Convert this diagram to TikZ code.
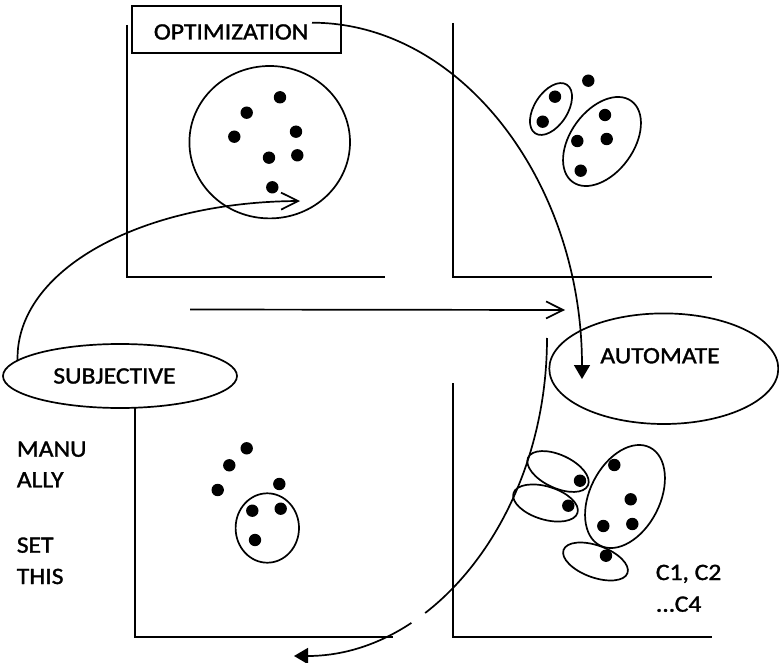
\documentclass[tikz,border=0pt]{standalone}
\usepackage{fontspec}
\setmainfont{Carlito}[RawFeature={embolden=1.3}]
\usetikzlibrary{arrows.meta,shapes.geometric}
\newcommand\lbl[1]{\scalebox{1.09}[1]{#1}}
\begin{document}
\begin{tikzpicture}[x=1pt,y=-1pt,line width=1.7pt,
  every node/.style={inner sep=0pt,font=\fontsize{23.5pt}{28pt}\selectfont},
  txt/.style={anchor=base west},
  bubble/.style={draw,ellipse},
  barb/.style={-{Straight Barb[length=17pt,width=17pt]}},
  tri/.style={-{Triangle[length=14pt,width=16pt]}}]
\useasboundingbox (0,0) rectangle (779,663);

% axes of the four panels
\draw (126.7,25) -- (126.7,277) -- (385,277);
\draw (453.3,23) -- (453.3,277) -- (711.7,277);
\draw (135,408) -- (135,636.7) -- (393,636.7);
\draw (452.7,383) -- (452.7,636.7) -- (712,636.7);

% top-left: one big cluster
\draw (269.7,142.2) ellipse[x radius=80.3,y radius=76.2];
\foreach \x/\y in {280/97.3,246.7/112.7,234.3/136.7,296/131.7,269/157.7,297.3/155.3,272.3/187.3}
  \fill (\x,\y) circle[radius=6.2];

% top-right: two clusters
\draw[rotate around={57:(551,109)}] (551,109) ellipse[x radius=29,y radius=16.6];
\draw[rotate around={54:(602,141.5)}] (602,141.5) ellipse[x radius=50,y radius=31.6];
\foreach \x/\y in {588.3/80.7,555/96.7,542.7/121.7,605/115,577.3/141,606.7/139,580.7/170.7}
  \fill (\x,\y) circle[radius=6.2];

% bottom-left: manually set cluster
\draw (267.3,528) ellipse[x radius=31.7,y radius=34.7];
\foreach \x/\y in {246.7/448.3,229.3/465.3,217.7/490,279.3/484,252.3/510.7,280.7/508.7,255/540}
  \fill (\x,\y) circle[radius=6.2];

% bottom-right: four clusters
\draw[rotate around={63:(625,496.5)}] (625,496.5) ellipse[x radius=55,y radius=35];
\draw[rotate around={-25:(558,471.5)}] (558,471.5) ellipse[x radius=33,y radius=16.5];
\draw[rotate around={-17:(545.5,503)}] (545.5,503) ellipse[x radius=33.5,y radius=16.5];
\draw[rotate around={-20:(595.5,561.5)}] (595.5,561.5) ellipse[x radius=34,y radius=16];
\foreach \x/\y in {614.3/465,580/480.7,568.3/505.7,630.7/499.3,603.3/526,632.3/524,606/555.7}
  \fill (\x,\y) circle[radius=6.2];

% labelled nodes
\node[draw,rectangle,minimum width=209pt,minimum height=46.7pt] (opt) at (236.2,29.4) {};
\node[txt] (opttext) at (153,39.5) {\lbl{OPTIMIZATION}};
\node[bubble,minimum width=234pt,minimum height=64pt] (subj) at (120,376) {\lbl{SUBJECTIVE}\hspace*{11pt}};
\node[bubble,minimum width=229pt,minimum height=110.6pt,text depth=26pt] (auto) at (663.8,368.7) {\lbl{AUTOMATE}\hspace*{7.6pt}};

\node[txt] (manu) at (16,456.7) {\lbl{MANU}};
\node[txt] (ally) at (16,487.3) {\lbl{ALLY}};
\node[txt] (set) at (16,552.7) {\lbl{SET}};
\node[txt] (this) at (16,584) {\lbl{THIS}};
\node[txt] (cone) at (655,580) {\lbl{C1, C2}};
\node[txt] (cfour) at (655,611.7) {\lbl{...C4}};

% connector end points
\coordinate (optstart) at (312,22.7);
\coordinate (autotip) at (582,379);
\coordinate (circtip) at (300,201);
\coordinate (midL) at (190,309.5);
\coordinate (midR) at (565,310);
\coordinate (bstart) at (547,338);
\coordinate (btip) at (294,656);

% connectors
\draw[barb] (subj.171) .. controls (16,270) and (140,202) .. (circtip);
\draw[barb] (midL) -- (midR);
\draw[tri] (optstart) .. controls (461.1,22.7) and (582,182.2) .. (autotip);
\draw[tri,dash pattern=on 311pt off 17pt on 600pt] (bstart) .. controls (547,513.6) and (433.7,656) .. (btip);
\end{tikzpicture}
\end{document}
